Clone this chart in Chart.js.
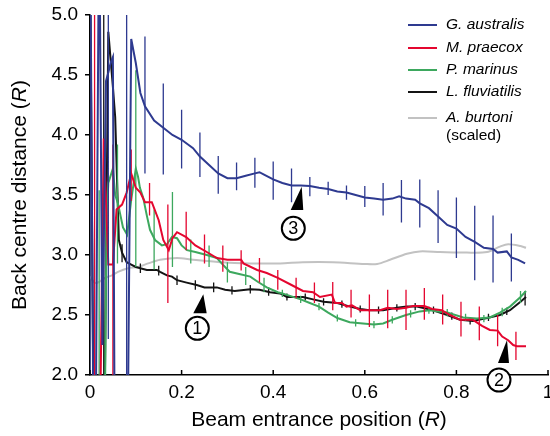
<!DOCTYPE html>
<html><head><meta charset="utf-8">
<script src="https://cdn.jsdelivr.net/npm/chart.js@4.4.1/dist/chart.umd.min.js"></script>
<style>html,body{margin:0;padding:0;background:#fff}canvas{display:block}</style>
</head><body>
<canvas id="c" width="550" height="436"></canvas>
<script>
const FONT = '"Liberation Sans", Arial, Helvetica, sans-serif';

// ---- tick labels ----
const xTicks = [0, 0.2, 0.4, 0.6, 0.8, 1];
const xTickLabels = ['0', '0.2', '0.4', '0.6', '0.8', '1'];
const yTicks = [2, 2.5, 3, 3.5, 4, 4.5, 5];
const yTickLabels = ['2.0', '2.5', '3.0', '3.5', '4.0', '4.5', '5.0'];

// ---- series names / colours ----
const seriesNames = ['G. australis', 'M. praecox', 'P. marinus', 'L. fluviatilis', 'A. burtoni'];
const seriesNotes = ['', '', '', '', '(scaled)'];
const seriesColors = ['#2E3A90', '#E4062F', '#3DA85E', '#141414', '#C2C2C2'];

// ---- G. australis ----
const gaX = [0, 0.01, 0.02, 0.027, 0.035, 0.04, 0.045, 0.05, 0.055, 0.08, 0.09, 0.10, 0.11, 0.12, 0.14, 0.16, 0.18, 0.20, 0.225, 0.24, 0.26, 0.28, 0.30, 0.32, 0.34, 0.36, 0.37, 0.38, 0.40, 0.42, 0.44, 0.46, 0.48, 0.50, 0.52, 0.54, 0.56, 0.58, 0.60, 0.62, 0.64, 0.66, 0.675, 0.69, 0.71, 0.72, 0.74, 0.76, 0.78, 0.80, 0.82, 0.84, 0.86, 0.88, 0.89, 0.91, 0.92, 0.935, 0.95];
const gaY = [6, 0, 6, 2.25, 4.45, 4.52, 4.6, 4.65, 0.5, 0.5, 4.8, 4.6, 4.35, 4.24, 4.12, 4.06, 4.0, 3.96, 3.89, 3.82, 3.75, 3.68, 3.64, 3.64, 3.66, 3.68, 3.69, 3.67, 3.63, 3.6, 3.58, 3.58, 3.575, 3.56, 3.55, 3.53, 3.52, 3.5, 3.48, 3.47, 3.46, 3.47, 3.49, 3.47, 3.46, 3.43, 3.39, 3.32, 3.25, 3.22, 3.15, 3.11, 3.06, 3.05, 3.02, 3.03, 2.98, 2.96, 2.93];
const gaErrX  = [0, 0.04, 0.08, 0.12, 0.16, 0.20, 0.24, 0.28, 0.32, 0.36, 0.40, 0.44, 0.48, 0.52, 0.56, 0.60, 0.64, 0.68, 0.72, 0.76, 0.80, 0.84, 0.88, 0.92];
const gaErrLo = [0, 2.3, 0, 3.68, 3.67, 3.72, 3.65, 3.51, 3.54, 3.56, 3.46, 3.44, 3.49, 3.5, 3.46, 3.4, 3.33, 3.27, 3.23, 3.1, 2.975, 2.79, 2.77, 2.78];
const gaErrHi = [6, 6, 6, 4.82, 4.43, 4.21, 4.02, 3.825, 3.77, 3.81, 3.78, 3.72, 3.65, 3.61, 3.58, 3.575, 3.6, 3.625, 3.63, 3.54, 3.48, 3.41, 3.33, 3.18];

// ---- M. praecox ----
const mpX = [0, 0.02, 0.03, 0.04, 0.05, 0.058, 0.07, 0.08, 0.09, 0.10, 0.11, 0.12, 0.135, 0.15, 0.16, 0.172, 0.18, 0.19, 0.21, 0.23, 0.255, 0.277, 0.30, 0.33, 0.335, 0.365, 0.386, 0.41, 0.44, 0.465, 0.487, 0.502, 0.528, 0.535, 0.55, 0.56, 0.572, 0.59, 0.605, 0.633, 0.65, 0.67, 0.69, 0.705, 0.73, 0.747, 0.768, 0.786, 0.808, 0.836, 0.856, 0.873, 0.89, 0.90, 0.913, 0.924, 0.932, 0.952];
const mpY = [0.5, 1.0, 3.97, 2.92, 2.92, 3.38, 3.42, 3.52, 3.68, 3.56, 3.52, 3.44, 3.44, 3.29, 3.125, 3.04, 3.14, 3.19, 3.15, 3.08, 3.025, 2.975, 2.96, 2.96, 2.93, 2.875, 2.85, 2.81, 2.75, 2.7, 2.69, 2.65, 2.67, 2.6, 2.6, 2.57, 2.58, 2.54, 2.54, 2.54, 2.56, 2.55, 2.56, 2.575, 2.575, 2.55, 2.54, 2.5, 2.46, 2.46, 2.41, 2.375, 2.37, 2.32, 2.29, 2.25, 2.24, 2.24];
const mpErrX  = [0.01, 0.05, 0.09, 0.13, 0.17, 0.21, 0.25, 0.29, 0.33, 0.37, 0.41, 0.45, 0.49, 0.53, 0.57, 0.61, 0.65, 0.69, 0.73, 0.77, 0.81, 0.85, 0.89, 0.93];
const mpErrLo = [0, 0, 3.45, 3.33, 2.6, 3.04, 2.93, 2.86, 2.87, 2.77, 2.71, 2.64, 2.6, 2.54, 2.48, 2.4, 2.39, 2.375, 2.46, 2.42, 2.32, 2.29, 2.24, 2.125];
const mpErrHi = [6, 3.92, 3.88, 3.6, 3.42, 3.36, 3.17, 3.08, 3.04, 2.975, 2.875, 2.81, 2.77, 2.775, 2.71, 2.67, 2.71, 2.71, 2.725, 2.67, 2.61, 2.57, 2.5, 2.36];

// ---- P. marinus ----
const pmX = [0, 0.03, 0.036, 0.04, 0.05, 0.055, 0.061, 0.072, 0.081, 0.09, 0.10, 0.105, 0.109, 0.116, 0.124, 0.131, 0.142, 0.157, 0.168, 0.179, 0.19, 0.20, 0.212, 0.23, 0.255, 0.277, 0.29, 0.305, 0.328, 0.35, 0.367, 0.386, 0.41, 0.42, 0.44, 0.46, 0.48, 0.50, 0.52, 0.54, 0.567, 0.596, 0.62, 0.64, 0.66, 0.69, 0.72, 0.742, 0.76, 0.78, 0.815, 0.845, 0.873, 0.895, 0.917, 0.94, 0.952];
const pmY = [-1, 0.5, 3.3, 3.6, 3.72, 3.5, 3.43, 3.23, 3.17, 3.46, 3.72, 3.65, 3.56, 3.48, 3.33, 3.21, 3.125, 3.08, 3.09, 3.15, 3.14, 3.08, 3.04, 3.025, 3.0, 2.975, 2.92, 2.86, 2.84, 2.82, 2.775, 2.73, 2.69, 2.68, 2.655, 2.63, 2.6, 2.57, 2.52, 2.475, 2.44, 2.43, 2.42, 2.43, 2.46, 2.5, 2.53, 2.54, 2.53, 2.52, 2.48, 2.47, 2.48, 2.52, 2.57, 2.65, 2.7];
const pmErrX  = [0.02, 0.06, 0.10, 0.14, 0.18, 0.22, 0.26, 0.30, 0.34, 0.38, 0.42, 0.46, 0.50, 0.54, 0.58, 0.62, 0.66, 0.70, 0.74, 0.78, 0.82, 0.86, 0.90, 0.94];
const pmErrLo = [0, 2.93, 2.9, 2.88, 2.9, 2.93, 2.9, 2.77, 2.75, 2.69, 2.65, 2.6, 2.54, 2.445, 2.405, 2.39, 2.43, 2.48, 2.51, 2.49, 2.45, 2.44, 2.49, 2.6];
const pmErrHi = [3.54, 3.92, 4.54, 3.38, 3.525, 3.13, 3.08, 2.94, 2.9, 2.81, 2.71, 2.66, 2.6, 2.505, 2.465, 2.45, 2.49, 2.54, 2.57, 2.55, 2.51, 2.5, 2.56, 2.7];

// ---- L. fluviatilis ----
const lfX = [0, 0.01, 0.02, 0.03, 0.04, 0.05, 0.055, 0.063, 0.07, 0.08, 0.09, 0.10, 0.11, 0.124, 0.146, 0.153, 0.168, 0.179, 0.19, 0.211, 0.233, 0.25, 0.277, 0.295, 0.316, 0.35, 0.37, 0.393, 0.415, 0.43, 0.465, 0.487, 0.51, 0.54, 0.568, 0.59, 0.61, 0.64, 0.67, 0.692, 0.714, 0.749, 0.78, 0.808, 0.836, 0.867, 0.895, 0.917, 0.94, 0.952];
const lfY = [5.5, 0.5, 0.5, 1.0, 4.86, 4.4, 4.15, 3.125, 3.02, 2.94, 2.92, 2.9, 2.89, 2.875, 2.875, 2.86, 2.83, 2.82, 2.79, 2.77, 2.75, 2.73, 2.73, 2.71, 2.7, 2.715, 2.71, 2.69, 2.68, 2.65, 2.65, 2.63, 2.61, 2.6, 2.57, 2.55, 2.54, 2.54, 2.56, 2.57, 2.57, 2.54, 2.5, 2.46, 2.45, 2.475, 2.5, 2.54, 2.61, 2.65];
const lfErrX  = [0.03, 0.07, 0.11, 0.15, 0.19, 0.23, 0.27, 0.31, 0.35, 0.39, 0.43, 0.47, 0.51, 0.55, 0.59, 0.63, 0.67, 0.71, 0.75, 0.79, 0.83, 0.87, 0.91, 0.95];
const lfErrLo = [0, 2.94, 2.85, 2.83, 2.75, 2.71, 2.69, 2.67, 2.68, 2.66, 2.62, 2.62, 2.58, 2.56, 2.52, 2.51, 2.53, 2.54, 2.51, 2.46, 2.42, 2.45, 2.5, 2.58];
const lfErrHi = [6, 3.09, 2.93, 2.91, 2.83, 2.79, 2.77, 2.74, 2.75, 2.73, 2.68, 2.68, 2.64, 2.62, 2.58, 2.57, 2.59, 2.6, 2.57, 2.52, 2.48, 2.51, 2.56, 2.7];

// ---- A. burtoni (scaled) ----
const abX = [0, 0.01, 0.02, 0.033, 0.048, 0.061, 0.083, 0.105, 0.127, 0.153, 0.19, 0.225, 0.284, 0.35, 0.415, 0.465, 0.53, 0.60, 0.627, 0.655, 0.692, 0.72, 0.764, 0.823, 0.867, 0.895, 0.913, 0.94, 0.952];
const abY = [2.82, 2.77, 2.775, 2.81, 2.83, 2.86, 2.89, 2.9, 2.93, 2.96, 2.975, 2.96, 2.94, 2.93, 2.93, 2.94, 2.94, 2.925, 2.925, 2.96, 3.01, 3.03, 3.025, 3.02, 3.025, 3.07, 3.09, 3.075, 3.06];

const seriesX = [gaX, mpX, pmX, lfX, abX];
const seriesY = [gaY, mpY, pmY, lfY, abY];
const errorBars = [
  {x: gaErrX, lo: gaErrLo, hi: gaErrHi},
  {x: mpErrX, lo: mpErrLo, hi: mpErrHi},
  {x: pmErrX, lo: pmErrLo, hi: pmErrHi},
  {x: lfErrX, lo: lfErrLo, hi: lfErrHi},
  null
];

// annotation markers (data units)
const markers = [
  {label: '1', tip: [0.2474, 2.6725], base: [0.2255, 0.2548, 2.514], circle: [0.2343, 2.389]},
  {label: '2', tip: [0.9105, 2.2917], base: [0.8908, 0.9148, 2.10], circle: [0.893, 1.958]},
  {label: '3', tip: [0.4622, 3.569], base: [0.4382, 0.4657, 3.375], circle: [0.4439, 3.2225]}
];

const datasets = seriesNames.map((name, i) => ({
  label: name,
  data: seriesX[i].map((x, k) => ({x: x, y: seriesY[i][k]})),
  borderColor: seriesColors[i],
  backgroundColor: seriesColors[i],
  borderWidth: 2,
  pointRadius: 0,
  tension: i === 4 ? 0.3 : 0,
  fill: false
}));

const errorBarPlugin = {
  id: 'errorBars',
  afterDatasetDraw(chart, args) {
    const eb = errorBars[args.index];
    if (!eb) return;
    const {ctx, chartArea: a, scales: {x, y}} = chart;
    ctx.save();
    ctx.beginPath();
    ctx.rect(a.left, a.top, a.right - a.left, a.bottom - a.top);
    ctx.clip();
    ctx.strokeStyle = seriesColors[args.index];
    ctx.lineWidth = 1.3;
    ctx.beginPath();
    eb.x.forEach((xv, k) => {
      const px = x.getPixelForValue(xv);
      ctx.moveTo(px, y.getPixelForValue(eb.lo[k]));
      ctx.lineTo(px, y.getPixelForValue(eb.hi[k]));
    });
    ctx.stroke();
    ctx.restore();
  }
};

function drawMixed(ctx, parts, cx, cy) {
  let total = 0;
  parts.forEach(p => { ctx.font = p.font; p.w = ctx.measureText(p.t).width; total += p.w; });
  let xx = cx - total / 2;
  ctx.textAlign = 'left';
  ctx.textBaseline = 'middle';
  parts.forEach(p => { ctx.font = p.font; ctx.fillText(p.t, xx, cy); xx += p.w; });
}

const decorPlugin = {
  id: 'decor',
  afterDraw(chart) {
    const {ctx, chartArea: a, scales: {x, y}} = chart;
    ctx.save();
    // inward ticks on x axis
    ctx.strokeStyle = '#000';
    ctx.lineWidth = 1.5;
    ctx.beginPath();
    xTicks.forEach(v => {
      const px = x.getPixelForValue(v);
      ctx.moveTo(px, a.bottom);
      ctx.lineTo(px, a.bottom - 5);
    });
    ctx.stroke();

    // axis titles
    ctx.fillStyle = '#000';
    const tf = '21px ' + FONT, tfi = 'italic 21px ' + FONT;
    drawMixed(ctx, [{t: 'Beam entrance position (', font: tf}, {t: 'R', font: tfi}, {t: ')', font: tf}],
      (a.left + a.right) / 2, 420);
    ctx.save();
    ctx.translate(20, (a.top + a.bottom) / 2);
    ctx.rotate(-Math.PI / 2);
    drawMixed(ctx, [{t: 'Back centre distance (', font: tf}, {t: 'R', font: tfi}, {t: ')', font: tf}], 0, 0);
    ctx.restore();

    // markers
    markers.forEach(m => {
      ctx.fillStyle = '#000';
      ctx.beginPath();
      ctx.moveTo(x.getPixelForValue(m.tip[0]), y.getPixelForValue(m.tip[1]));
      ctx.lineTo(x.getPixelForValue(m.base[1]), y.getPixelForValue(m.base[2]));
      ctx.lineTo(x.getPixelForValue(m.base[0]), y.getPixelForValue(m.base[2]));
      ctx.closePath();
      ctx.fill();
      const cx = x.getPixelForValue(m.circle[0]), cy = y.getPixelForValue(m.circle[1]);
      ctx.beginPath();
      ctx.arc(cx, cy, 11.5, 0, Math.PI * 2);
      ctx.fillStyle = '#fff';
      ctx.fill();
      ctx.lineWidth = 2;
      ctx.strokeStyle = '#000';
      ctx.stroke();
      ctx.fillStyle = '#000';
      ctx.font = '18px ' + FONT;
      ctx.textAlign = 'center';
      ctx.textBaseline = 'middle';
      ctx.fillText(m.label, cx, cy + 1);
    });

    // legend
    const rows = [25, 48, 70, 92, 118];
    chart.data.datasets.forEach((ds, i) => {
      const ry = rows[i];
      ctx.strokeStyle = ds.borderColor;
      ctx.lineWidth = 2;
      ctx.beginPath();
      ctx.moveTo(408, ry);
      ctx.lineTo(437, ry);
      ctx.stroke();
      ctx.fillStyle = '#000';
      ctx.font = 'italic 15.5px ' + FONT;
      ctx.textAlign = 'left';
      ctx.textBaseline = 'middle';
      ctx.fillText(ds.label, 446, ry);
      if (seriesNotes[i]) {
        ctx.font = '15.5px ' + FONT;
        ctx.fillText(seriesNotes[i], 446, ry + 18);
      }
    });
    ctx.restore();
  }
};

new Chart(document.getElementById('c'), {
  type: 'line',
  data: {datasets: datasets},
  options: {
    responsive: false,
    animation: false,
    layout: {padding: {left: 0, right: 2, top: 15, bottom: 0}, autoPadding: false},
    plugins: {legend: {display: false}, tooltip: {enabled: false}},
    scales: {
      x: {
        type: 'linear', min: 0, max: 1,
        afterBuildTicks: s => { s.ticks = xTicks.map(v => ({value: v})); },
        afterFit: s => { s.height = 61; s.paddingLeft = 0; s.paddingRight = 0; },
        ticks: {
          callback: (v, i) => xTickLabels[i],
          font: {size: 19, family: FONT}, color: '#000', padding: 6,
          maxRotation: 0, autoSkip: false
        },
        grid: {drawOnChartArea: false, drawTicks: false},
        border: {display: true, color: '#000', width: 1.5}
      },
      y: {
        type: 'linear', min: 2, max: 5,
        afterBuildTicks: s => { s.ticks = yTicks.map(v => ({value: v})); },
        afterFit: s => { s.width = 90; s.paddingTop = 0; s.paddingBottom = 0; },
        ticks: {
          callback: (v, i) => yTickLabels[i],
          font: {size: 19, family: FONT}, color: '#000', padding: 7
        },
        grid: {drawOnChartArea: false, drawTicks: true, tickLength: 5, color: '#000', lineWidth: 1.5},
        border: {display: true, color: '#000', width: 1.5}
      }
    }
  },
  plugins: [errorBarPlugin, decorPlugin]
});
</script>
</body></html>
